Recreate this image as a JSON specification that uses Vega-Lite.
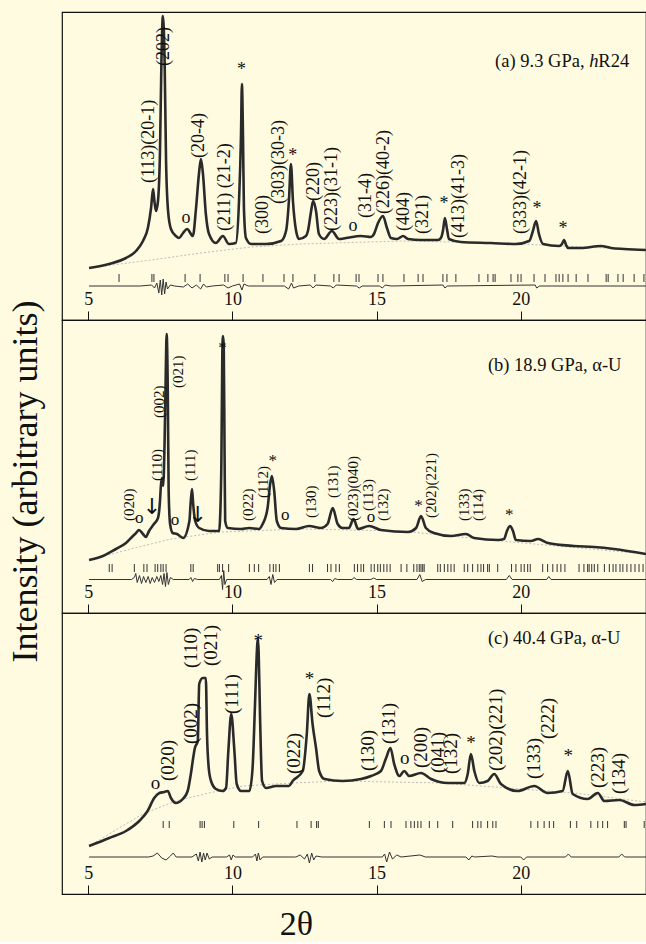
{
"$schema": "https://vega.github.io/schema/vega-lite/v6.json",
"background": "#FEFBE1",
"padding": {"left": 8, "top": 11, "right": 0, "bottom": 0},
"autosize": {"type": "pad"},
"bounds": "flush",
"spacing": 0,
"title": {"text": "Intensity (arbitrary units)", "orient": "left", "anchor": "middle", "font": "Liberation Serif", "fontSize": 36, "fontWeight": "normal", "color": "#111", "offset": 16, "dx": -5},
"config": {"view": {"stroke": "#111", "strokeWidth": 1.2}, "font": "Liberation Serif"},
"datasets": {
"aObs": [{"t":5.03,"I":52},{"t":5.72,"I":56},{"t":6.31,"I":62},{"t":6.66,"I":69},{"t":6.90,"I":79},{"t":7.07,"I":92},{"t":7.18,"I":112},{"t":7.25,"I":131},{"t":7.30,"I":118},{"t":7.35,"I":109},{"t":7.42,"I":119},{"t":7.49,"I":169},{"t":7.54,"I":259},{"t":7.59,"I":304},{"t":7.65,"I":259},{"t":7.70,"I":159},{"t":7.77,"I":109},{"t":7.87,"I":91},{"t":8.04,"I":84},{"t":8.15,"I":82},{"t":8.29,"I":87},{"t":8.43,"I":91},{"t":8.63,"I":84},{"t":8.74,"I":112},{"t":8.84,"I":146},{"t":8.91,"I":161},{"t":8.98,"I":146},{"t":9.08,"I":106},{"t":9.19,"I":86},{"t":9.43,"I":77},{"t":9.67,"I":84},{"t":9.88,"I":76},{"t":10.12,"I":77},{"t":10.23,"I":119},{"t":10.30,"I":186},{"t":10.33,"I":236},{"t":10.37,"I":179},{"t":10.40,"I":112},{"t":10.47,"I":82},{"t":10.65,"I":76},{"t":11.17,"I":76},{"t":11.69,"I":79},{"t":11.86,"I":89},{"t":11.96,"I":119},{"t":12.03,"I":156},{"t":12.10,"I":119},{"t":12.21,"I":89},{"t":12.31,"I":81},{"t":12.55,"I":84},{"t":12.62,"I":89},{"t":12.73,"I":109},{"t":12.80,"I":119},{"t":12.90,"I":109},{"t":13.00,"I":86},{"t":13.18,"I":81},{"t":13.45,"I":89},{"t":13.70,"I":81},{"t":13.94,"I":82},{"t":14.46,"I":84},{"t":14.81,"I":83},{"t":14.91,"I":86},{"t":15.05,"I":97},{"t":15.22,"I":104},{"t":15.36,"I":92},{"t":15.50,"I":82},{"t":15.71,"I":81},{"t":15.92,"I":84},{"t":16.09,"I":81},{"t":16.54,"I":80},{"t":17.13,"I":80},{"t":17.23,"I":82},{"t":17.30,"I":89},{"t":17.37,"I":102},{"t":17.44,"I":91},{"t":17.51,"I":81},{"t":17.92,"I":78},{"t":18.96,"I":77},{"t":19.83,"I":76},{"t":20.29,"I":79},{"t":20.42,"I":89},{"t":20.53,"I":99},{"t":20.63,"I":86},{"t":20.77,"I":76},{"t":21.33,"I":74},{"t":21.43,"I":76},{"t":21.50,"I":80},{"t":21.57,"I":75},{"t":21.64,"I":72},{"t":22.09,"I":72},{"t":22.78,"I":74},{"t":23.13,"I":72},{"t":23.58,"I":71},{"t":24.34,"I":70}],
"aBg": [{"t":5.03,"I":52},{"t":7.18,"I":60},{"t":8.91,"I":67},{"t":10.65,"I":73},{"t":12.38,"I":76},{"t":15.85,"I":79},{"t":19.31,"I":77},{"t":24.34,"I":70}],
"aTick": [{"t":6.07},{"t":7.21},{"t":7.28},{"t":8.36},{"t":8.88},{"t":9.74},{"t":9.85},{"t":10.37},{"t":11.06},{"t":11.79},{"t":12.10},{"t":12.86},{"t":13.52},{"t":13.70},{"t":14.29},{"t":14.39},{"t":15.05},{"t":15.22},{"t":15.95},{"t":16.44},{"t":16.61},{"t":17.30},{"t":17.44},{"t":17.75},{"t":18.55},{"t":18.86},{"t":19.04},{"t":19.11},{"t":19.66},{"t":19.90},{"t":20.01},{"t":20.46},{"t":20.84},{"t":21.22},{"t":21.33},{"t":21.46},{"t":21.64},{"t":21.92},{"t":22.33},{"t":22.96},{"t":23.03},{"t":23.37},{"t":23.55},{"t":23.93},{"t":24.27}],
"aDiff": [{"t":5.03,"d":0},{"t":6.8,"d":0},{"t":7.2,"d":1},{"t":7.3,"d":-2},{"t":7.38,"d":3},{"t":7.45,"d":-7},{"t":7.5,"d":6},{"t":7.55,"d":-9},{"t":7.6,"d":7},{"t":7.65,"d":-8},{"t":7.7,"d":4},{"t":7.75,"d":-3},{"t":7.85,"d":1},{"t":8.0,"d":0},{"t":8.3,"d":-1},{"t":8.45,"d":2},{"t":8.6,"d":-2},{"t":8.75,"d":1},{"t":8.9,"d":-3},{"t":9.0,"d":2},{"t":9.1,"d":-1},{"t":9.3,"d":0},{"t":9.7,"d":1},{"t":9.85,"d":-2},{"t":10.0,"d":0},{"t":10.25,"d":2},{"t":10.33,"d":-4},{"t":10.4,"d":2},{"t":10.55,"d":0},{"t":11.8,"d":0},{"t":11.95,"d":-3},{"t":12.05,"d":3},{"t":12.12,"d":-2},{"t":12.3,"d":0},{"t":12.7,"d":1},{"t":12.8,"d":-2},{"t":12.9,"d":1},{"t":13.4,"d":0},{"t":13.5,"d":-2},{"t":13.6,"d":1},{"t":14.3,"d":0},{"t":14.4,"d":-2},{"t":14.5,"d":0},{"t":15.1,"d":0},{"t":15.2,"d":-2},{"t":15.3,"d":1},{"t":15.5,"d":0},{"t":17.3,"d":1},{"t":17.37,"d":-2},{"t":17.45,"d":0},{"t":20.5,"d":1},{"t":20.55,"d":-2},{"t":20.65,"d":0},{"t":24.34,"d":0}],
"aLab": [{"t":7.11,"I":137,"txt":"(113)(20-1)"},{"t":7.63,"I":254,"txt":"(202)"},{"t":8.84,"I":162,"txt":"(20-4)"},{"t":9.74,"I":89,"txt":"(211) (21-2)"},{"t":11.05,"I":86,"txt":"(300)"},{"t":11.63,"I":116,"txt":"(303)(30-3)"},{"t":12.84,"I":119,"txt":"(220)"},{"t":13.45,"I":89,"txt":"(223)(31-1)"},{"t":14.63,"I":102,"txt":"(31-4)"},{"t":15.26,"I":106,"txt":"(226)(40-2)"},{"t":15.95,"I":89,"txt":"(404)"},{"t":16.61,"I":86,"txt":"(321)"},{"t":17.86,"I":82,"txt":"(413)(41-3)"},{"t":20.01,"I":86,"txt":"(333)(42-1)"}],
"aSym": [{"t":10.32,"I":250,"txt":"*"},{"t":12.09,"I":164,"txt":"*"},{"t":17.34,"I":116,"txt":"*"},{"t":20.56,"I":111,"txt":"*"},{"t":21.46,"I":91,"txt":"*"},{"t":8.39,"I":102,"txt":"o"},{"t":14.18,"I":94,"txt":"o"}],
"aHead": [{"t":19.11,"I":253,"txt":"(a) 9.3 GPa,"},{"t":22.69,"I":253,"txt":"R24"}],
"aHeadIt": [{"t":22.37,"I":253,"txt":"h"}],
"bObs": [{"t":5.03,"I":53},{"t":5.51,"I":57},{"t":5.96,"I":64},{"t":6.31,"I":70},{"t":6.55,"I":77},{"t":6.66,"I":80},{"t":6.76,"I":83},{"t":6.90,"I":79},{"t":7.00,"I":76},{"t":7.11,"I":82},{"t":7.28,"I":89},{"t":7.42,"I":95},{"t":7.49,"I":112},{"t":7.52,"I":127},{"t":7.56,"I":135},{"t":7.60,"I":127},{"t":7.65,"I":172},{"t":7.69,"I":239},{"t":7.72,"I":279},{"t":7.76,"I":222},{"t":7.79,"I":122},{"t":7.84,"I":89},{"t":7.93,"I":80},{"t":8.08,"I":79},{"t":8.29,"I":75},{"t":8.51,"I":92},{"t":8.55,"I":109},{"t":8.60,"I":124},{"t":8.64,"I":109},{"t":8.71,"I":92},{"t":8.85,"I":85},{"t":9.19,"I":82},{"t":9.54,"I":82},{"t":9.57,"I":92},{"t":9.62,"I":155},{"t":9.65,"I":255},{"t":9.67,"I":277},{"t":9.70,"I":269},{"t":9.73,"I":155},{"t":9.75,"I":92},{"t":9.84,"I":85},{"t":10.30,"I":84},{"t":10.58,"I":85},{"t":10.92,"I":84},{"t":11.05,"I":89},{"t":11.22,"I":105},{"t":11.31,"I":129},{"t":11.37,"I":137},{"t":11.45,"I":122},{"t":11.54,"I":92},{"t":11.69,"I":85},{"t":12.21,"I":84},{"t":12.66,"I":87},{"t":13.07,"I":85},{"t":13.30,"I":89},{"t":13.48,"I":105},{"t":13.65,"I":89},{"t":13.82,"I":85},{"t":14.04,"I":85},{"t":14.20,"I":94},{"t":14.36,"I":84},{"t":14.74,"I":87},{"t":15.15,"I":83},{"t":16.09,"I":81},{"t":16.37,"I":85},{"t":16.54,"I":97},{"t":16.71,"I":85},{"t":16.99,"I":80},{"t":17.58,"I":77},{"t":18.10,"I":79},{"t":18.38,"I":75},{"t":19.21,"I":73},{"t":19.42,"I":74},{"t":19.52,"I":82},{"t":19.63,"I":87},{"t":19.73,"I":82},{"t":19.83,"I":73},{"t":20.35,"I":72},{"t":20.60,"I":74},{"t":20.94,"I":70},{"t":21.85,"I":67},{"t":22.54,"I":66},{"t":23.23,"I":64},{"t":24.34,"I":59}],
"bBg": [{"t":5.03,"I":53},{"t":6.48,"I":64},{"t":7.87,"I":74},{"t":9.60,"I":81},{"t":12.38,"I":84},{"t":15.85,"I":82},{"t":19.31,"I":72},{"t":24.34,"I":59}],
"bTick": [{"t":5.73},{"t":5.83},{"t":6.60},{"t":6.93},{"t":7.04},{"t":7.32},{"t":7.41},{"t":7.52},{"t":7.60},{"t":7.70},{"t":8.56},{"t":8.64},{"t":9.49},{"t":9.55},{"t":9.66},{"t":9.87},{"t":10.59},{"t":10.76},{"t":10.91},{"t":11.30},{"t":11.42},{"t":11.51},{"t":11.63},{"t":12.67},{"t":12.78},{"t":13.30},{"t":13.42},{"t":13.59},{"t":13.71},{"t":14.23},{"t":14.34},{"t":14.46},{"t":14.55},{"t":14.81},{"t":14.92},{"t":15.04},{"t":15.13},{"t":15.25},{"t":15.36},{"t":15.47},{"t":15.85},{"t":16.05},{"t":16.29},{"t":16.40},{"t":16.48},{"t":16.54},{"t":16.60},{"t":16.65},{"t":17.12},{"t":17.21},{"t":17.35},{"t":17.47},{"t":17.58},{"t":17.69},{"t":18.04},{"t":18.16},{"t":18.33},{"t":18.51},{"t":18.62},{"t":18.71},{"t":18.85},{"t":18.91},{"t":19.20},{"t":19.68},{"t":19.83},{"t":20.01},{"t":20.12},{"t":20.24},{"t":20.33},{"t":20.76},{"t":20.93},{"t":21.11},{"t":21.26},{"t":21.39},{"t":21.53},{"t":22.02},{"t":22.19},{"t":22.32},{"t":22.37},{"t":22.46},{"t":22.55},{"t":22.67},{"t":22.90},{"t":23.07},{"t":23.20},{"t":23.30},{"t":23.44},{"t":23.54},{"t":23.68},{"t":23.82},{"t":23.96},{"t":24.10},{"t":24.24}],
"bDiff": [{"t":5.03,"d":0},{"t":6.5,"d":0},{"t":6.6,"d":2},{"t":6.65,"d":6},{"t":6.7,"d":-3},{"t":6.78,"d":4},{"t":6.85,"d":-4},{"t":6.92,"d":3},{"t":7.0,"d":-3},{"t":7.08,"d":3},{"t":7.15,"d":-4},{"t":7.22,"d":2},{"t":7.3,"d":-3},{"t":7.38,"d":3},{"t":7.45,"d":-2},{"t":7.52,"d":4},{"t":7.58,"d":-5},{"t":7.63,"d":6},{"t":7.68,"d":-7},{"t":7.73,"d":7},{"t":7.78,"d":-5},{"t":7.85,"d":2},{"t":7.95,"d":0},{"t":8.5,"d":0},{"t":8.56,"d":2},{"t":8.62,"d":-2},{"t":8.68,"d":1},{"t":8.8,"d":0},{"t":9.55,"d":0},{"t":9.62,"d":4},{"t":9.66,"d":-10},{"t":9.7,"d":9},{"t":9.74,"d":-5},{"t":9.8,"d":0},{"t":11.2,"d":0},{"t":11.28,"d":3},{"t":11.34,"d":-5},{"t":11.4,"d":5},{"t":11.46,"d":-3},{"t":11.55,"d":0},{"t":13.4,"d":0},{"t":13.48,"d":-2},{"t":13.55,"d":1},{"t":13.65,"d":0},{"t":14.15,"d":0},{"t":14.22,"d":2},{"t":14.3,"d":0},{"t":14.8,"d":0},{"t":14.9,"d":1.5},{"t":15.0,"d":0},{"t":16.4,"d":0},{"t":16.5,"d":5},{"t":16.58,"d":-2},{"t":16.7,"d":0},{"t":19.5,"d":0},{"t":19.6,"d":4},{"t":19.7,"d":0},{"t":20.9,"d":0},{"t":20.97,"d":3},{"t":21.05,"d":0},{"t":24.34,"d":0}],
"bLab": [{"t":6.43,"I":92,"txt":"(020)"},{"t":7.39,"I":132,"txt":"(110)"},{"t":7.47,"I":195,"txt":"(002)"},{"t":8.12,"I":225,"txt":"(021)"},{"t":8.53,"I":132,"txt":"(111)"},{"t":10.53,"I":92,"txt":"(022)"},{"t":11.07,"I":115,"txt":"(112)"},{"t":12.73,"I":95,"txt":"(130)"},{"t":13.48,"I":115,"txt":"(131)"},{"t":14.18,"I":92,"txt":"(023)(040)"},{"t":14.69,"I":102,"txt":"(113)"},{"t":15.21,"I":92,"txt":"(132)"},{"t":16.89,"I":95,"txt":"(202)(221)"},{"t":18.04,"I":92,"txt":"(133)"},{"t":18.51,"I":92,"txt":"(114)"}],
"bSym": [{"t":6.77,"I":95,"txt":"o"},{"t":8.01,"I":93,"txt":"o"},{"t":11.83,"I":98,"txt":"o"},{"t":14.81,"I":96,"txt":"o"},{"t":9.66,"I":265,"txt":"*"},{"t":11.40,"I":152,"txt":"*"},{"t":16.45,"I":107,"txt":"*"},{"t":19.60,"I":98,"txt":"*"}],
"bArrow": [{"t":7.21,"I":106},{"t":8.80,"I":98}],
"bHead": [{"t":18.86,"I":242,"txt":"(b) 18.9 GPa, α-U"}],
"cObs": [{"t":5.03,"I":48},{"t":5.73,"I":56},{"t":6.31,"I":63},{"t":6.77,"I":73},{"t":7.06,"I":83},{"t":7.29,"I":96},{"t":7.47,"I":101},{"t":7.64,"I":102},{"t":7.76,"I":103},{"t":7.87,"I":96},{"t":8.04,"I":91},{"t":8.28,"I":95},{"t":8.45,"I":103},{"t":8.56,"I":120},{"t":8.64,"I":136},{"t":8.70,"I":146},{"t":8.80,"I":153},{"t":8.85,"I":210},{"t":8.97,"I":216},{"t":9.08,"I":216},{"t":9.12,"I":160},{"t":9.18,"I":126},{"t":9.26,"I":113},{"t":9.43,"I":105},{"t":9.66,"I":103},{"t":9.78,"I":106},{"t":9.86,"I":143},{"t":9.96,"I":180},{"t":10.07,"I":143},{"t":10.15,"I":110},{"t":10.30,"I":103},{"t":10.59,"I":103},{"t":10.70,"I":126},{"t":10.78,"I":186},{"t":10.85,"I":243},{"t":10.88,"I":256},{"t":10.91,"I":243},{"t":10.96,"I":176},{"t":11.03,"I":113},{"t":11.17,"I":106},{"t":11.51,"I":108},{"t":11.96,"I":108},{"t":12.09,"I":113},{"t":12.44,"I":123},{"t":12.58,"I":160},{"t":12.67,"I":200},{"t":12.78,"I":170},{"t":12.90,"I":146},{"t":13.01,"I":123},{"t":13.19,"I":115},{"t":13.82,"I":113},{"t":14.46,"I":115},{"t":14.81,"I":118},{"t":15.15,"I":123},{"t":15.33,"I":136},{"t":15.48,"I":146},{"t":15.61,"I":130},{"t":15.79,"I":118},{"t":15.96,"I":123},{"t":16.13,"I":118},{"t":16.54,"I":121},{"t":16.89,"I":115},{"t":17.47,"I":111},{"t":18.04,"I":111},{"t":18.16,"I":120},{"t":18.27,"I":140},{"t":18.39,"I":123},{"t":18.56,"I":111},{"t":18.85,"I":113},{"t":19.08,"I":120},{"t":19.31,"I":110},{"t":19.89,"I":103},{"t":20.47,"I":108},{"t":20.93,"I":101},{"t":21.45,"I":103},{"t":21.63,"I":123},{"t":21.80,"I":100},{"t":22.32,"I":95},{"t":22.67,"I":101},{"t":22.90,"I":93},{"t":23.42,"I":94},{"t":23.94,"I":89},{"t":24.34,"I":90}],
"cBg": [{"t":5.03,"I":48},{"t":6.89,"I":80},{"t":8.04,"I":93},{"t":9.19,"I":101},{"t":10.36,"I":108},{"t":12.09,"I":111},{"t":13.77,"I":113},{"t":17.23,"I":111},{"t":21.85,"I":101},{"t":24.34,"I":92}],
"cTick": [{"t":7.60},{"t":7.81},{"t":8.88},{"t":8.95},{"t":9.03},{"t":10.05},{"t":10.91},{"t":12.24},{"t":12.73},{"t":12.92},{"t":12.98},{"t":14.75},{"t":15.27},{"t":15.50},{"t":16.02},{"t":16.19},{"t":16.31},{"t":16.43},{"t":16.54},{"t":16.83},{"t":17.12},{"t":17.64},{"t":18.33},{"t":18.51},{"t":18.62},{"t":18.85},{"t":19.03},{"t":19.14},{"t":20.35},{"t":20.59},{"t":20.81},{"t":20.99},{"t":21.14},{"t":21.72},{"t":21.94},{"t":22.43},{"t":22.67},{"t":22.84},{"t":23.01},{"t":23.59},{"t":23.65},{"t":24.28}],
"cDiff": [{"t":5.03,"d":0},{"t":7.1,"d":0},{"t":7.25,"d":1},{"t":7.4,"d":4},{"t":7.55,"d":-1},{"t":7.7,"d":-3},{"t":7.85,"d":1},{"t":7.95,"d":4},{"t":8.05,"d":0},{"t":8.6,"d":0},{"t":8.75,"d":3},{"t":8.82,"d":-4},{"t":8.88,"d":5},{"t":8.94,"d":-5},{"t":9.0,"d":4},{"t":9.06,"d":-3},{"t":9.12,"d":4},{"t":9.2,"d":-2},{"t":9.3,"d":0},{"t":9.8,"d":0},{"t":9.9,"d":2},{"t":9.96,"d":-3},{"t":10.02,"d":2},{"t":10.1,"d":0},{"t":10.7,"d":0},{"t":10.8,"d":3},{"t":10.85,"d":-4},{"t":10.9,"d":4},{"t":10.96,"d":-3},{"t":11.05,"d":0},{"t":12.2,"d":0},{"t":12.35,"d":2},{"t":12.5,"d":-2},{"t":12.6,"d":3},{"t":12.67,"d":-6},{"t":12.75,"d":4},{"t":12.82,"d":-3},{"t":12.9,"d":1},{"t":13.1,"d":0},{"t":15.2,"d":0},{"t":15.28,"d":3},{"t":15.35,"d":-5},{"t":15.45,"d":5},{"t":15.55,"d":-2},{"t":15.7,"d":2},{"t":15.85,"d":0},{"t":16.5,"d":2},{"t":16.7,"d":0},{"t":18.1,"d":0},{"t":18.2,"d":-3},{"t":18.3,"d":1},{"t":18.4,"d":0},{"t":19.0,"d":1},{"t":19.2,"d":0},{"t":20.0,"d":0},{"t":20.1,"d":-3},{"t":20.2,"d":0},{"t":21.55,"d":0},{"t":21.65,"d":3},{"t":21.75,"d":0},{"t":23.4,"d":0},{"t":23.5,"d":3},{"t":23.6,"d":0},{"t":24.34,"d":0}],
"cLab": [{"t":7.76,"I":113,"txt":"(020)"},{"t":8.56,"I":150,"txt":"(002)"},{"t":8.56,"I":226,"txt":"(110)"},{"t":9.26,"I":228,"txt":"(021)"},{"t":9.99,"I":180,"txt":"(111)"},{"t":12.15,"I":120,"txt":"(022)"},{"t":13.19,"I":176,"txt":"(112)"},{"t":14.69,"I":123,"txt":"(130)"},{"t":15.44,"I":150,"txt":"(131)"},{"t":16.54,"I":126,"txt":"(200)"},{"t":17.12,"I":121,"txt":"(041)"},{"t":17.58,"I":120,"txt":"(132)"},{"t":19.14,"I":123,"txt":"(202)(221)"},{"t":20.47,"I":115,"txt":"(133)"},{"t":20.93,"I":155,"txt":"(222)"},{"t":22.69,"I":106,"txt":"(223)"},{"t":23.42,"I":100,"txt":"(134)"}],
"cSym": [{"t":7.33,"I":111,"txt":"o"},{"t":15.98,"I":136,"txt":"o"},{"t":10.90,"I":253,"txt":"*"},{"t":12.67,"I":215,"txt":"*"},{"t":18.27,"I":151,"txt":"*"},{"t":21.65,"I":138,"txt":"*"}],
"cHead": [{"t":18.86,"I":250,"txt":"(c) 40.4 GPa, α-U"}]
},
"vconcat": [
{
"width": 584, "height": 308,
"encoding": {"x": {"field": "t", "type": "quantitative", "scale": {"domain": [4.092, 24.342], "nice": false, "zero": false}, "axis": {"values": [5,10,15,20], "title": null, "grid": false, "tickSize": -9, "tickColor": "#111", "domainColor": "#111", "labelPadding": -7, "labelBaseline": "alphabetic", "labelFont": "Liberation Serif", "labelFontSize": 18, "labelColor": "#111", "labelFlush": false, "labelOverlap": false}}},
"layer": [
{"data": {"name": "aBg"}, "mark": {"type": "line", "color": "#bdbdbd", "strokeWidth": 1, "strokeDash": [2, 2], "clip": true}, "encoding": {"y": {"field": "I", "type": "quantitative", "scale": {"domain": [0, 308], "nice": false, "zero": false}, "axis": null}}},
{"data": {"name": "aObs"}, "mark": {"type": "line", "color": "#2a2a2a", "strokeWidth": 2.6, "interpolate": "monotone", "clip": true}, "encoding": {"y": {"field": "I", "type": "quantitative"}}},
{"data": {"name": "aTick"}, "mark": {"type": "rule", "color": "#333", "strokeWidth": 1}, "encoding": {"y": {"datum": 38, "type": "quantitative"}, "y2": {"datum": 46}}},
{"data": {"name": "aDiff"}, "mark": {"type": "line", "color": "#333", "strokeWidth": 1, "yOffset": -34}, "encoding": {"y": {"field": "d", "type": "quantitative"}}},
{"data": {"name": "aLab"}, "mark": {"type": "text", "angle": 270, "align": "left", "baseline": "middle", "fontSize": 18, "font": "Liberation Serif", "color": "#111"}, "encoding": {"y": {"field": "I", "type": "quantitative"}, "text": {"field": "txt"}}},
{"data": {"name": "aSym"}, "mark": {"type": "text", "align": "center", "baseline": "middle", "fontSize": 18, "font": "Liberation Serif", "color": "#111"}, "encoding": {"y": {"field": "I", "type": "quantitative"}, "text": {"field": "txt"}}},
{"data": {"name": "aHead"}, "mark": {"type": "text", "align": "left", "baseline": "alphabetic", "fontSize": 18.5, "font": "Liberation Serif", "color": "#111"}, "encoding": {"y": {"field": "I", "type": "quantitative"}, "text": {"field": "txt"}}},
{"data": {"name": "aHeadIt"}, "mark": {"type": "text", "align": "left", "baseline": "alphabetic", "fontSize": 18.5, "fontStyle": "italic", "font": "Liberation Serif", "color": "#111"}, "encoding": {"y": {"field": "I", "type": "quantitative"}, "text": {"field": "txt"}}}
]
},
{
"width": 584, "height": 293,
"encoding": {"x": {"field": "t", "type": "quantitative", "scale": {"domain": [4.092, 24.342], "nice": false, "zero": false}, "axis": {"values": [5,10,15,20], "title": null, "grid": false, "tickSize": -9, "tickColor": "#111", "domainColor": "#111", "labelPadding": -7, "labelBaseline": "alphabetic", "labelFont": "Liberation Serif", "labelFontSize": 18, "labelColor": "#111", "labelFlush": false, "labelOverlap": false}}},
"layer": [
{"data": {"name": "bBg"}, "mark": {"type": "line", "color": "#bdbdbd", "strokeWidth": 1, "strokeDash": [2, 2], "clip": true}, "encoding": {"y": {"field": "I", "type": "quantitative", "scale": {"domain": [0, 293], "nice": false, "zero": false}, "axis": null}}},
{"data": {"name": "bObs"}, "mark": {"type": "line", "color": "#2a2a2a", "strokeWidth": 2.6, "interpolate": "monotone", "clip": true}, "encoding": {"y": {"field": "I", "type": "quantitative"}}},
{"data": {"name": "bTick"}, "mark": {"type": "rule", "color": "#333", "strokeWidth": 1}, "encoding": {"y": {"datum": 41, "type": "quantitative"}, "y2": {"datum": 49}}},
{"data": {"name": "bDiff"}, "mark": {"type": "line", "color": "#333", "strokeWidth": 1, "yOffset": -33.5}, "encoding": {"y": {"field": "d", "type": "quantitative"}}},
{"data": {"name": "bLab"}, "mark": {"type": "text", "angle": 270, "align": "left", "baseline": "middle", "fontSize": 15, "font": "Liberation Serif", "color": "#111"}, "encoding": {"y": {"field": "I", "type": "quantitative"}, "text": {"field": "txt"}}},
{"data": {"name": "bSym"}, "mark": {"type": "text", "align": "center", "baseline": "middle", "fontSize": 17, "font": "Liberation Serif", "color": "#111"}, "encoding": {"y": {"field": "I", "type": "quantitative"}, "text": {"field": "txt"}}},
{"data": {"name": "bArrow"}, "mark": {"type": "text", "text": "↓", "align": "center", "baseline": "middle", "fontSize": 22, "font": "DejaVu Sans", "color": "#111"}, "encoding": {"y": {"field": "I", "type": "quantitative"}}},
{"data": {"name": "bHead"}, "mark": {"type": "text", "align": "left", "baseline": "alphabetic", "fontSize": 18.5, "font": "Liberation Serif", "color": "#111"}, "encoding": {"y": {"field": "I", "type": "quantitative"}, "text": {"field": "txt"}}}
]
},
{
"width": 584, "height": 281,
"encoding": {"x": {"field": "t", "type": "quantitative", "scale": {"domain": [4.092, 24.342], "nice": false, "zero": false}, "axis": {"values": [5,10,15,20], "title": "2θ", "titleFont": "Liberation Serif", "titleFontSize": 34, "titleFontWeight": "normal", "titleColor": "#111", "titleX": 234, "titleY": 40, "titleBaseline": "alphabetic", "titleAlign": "center", "grid": false, "tickSize": -9, "tickColor": "#111", "domainColor": "#111", "labelPadding": -7, "labelBaseline": "alphabetic", "labelFont": "Liberation Serif", "labelFontSize": 18, "labelColor": "#111", "labelFlush": false, "labelOverlap": false}}},
"layer": [
{"data": {"name": "cBg"}, "mark": {"type": "line", "color": "#bdbdbd", "strokeWidth": 1, "strokeDash": [2, 2], "clip": true}, "encoding": {"y": {"field": "I", "type": "quantitative", "scale": {"domain": [0, 281], "nice": false, "zero": false}, "axis": null}}},
{"data": {"name": "cObs"}, "mark": {"type": "line", "color": "#2a2a2a", "strokeWidth": 2.6, "interpolate": "monotone", "clip": true}, "encoding": {"y": {"field": "I", "type": "quantitative"}}},
{"data": {"name": "cTick"}, "mark": {"type": "rule", "color": "#333", "strokeWidth": 1}, "encoding": {"y": {"datum": 66, "type": "quantitative"}, "y2": {"datum": 73}}},
{"data": {"name": "cDiff"}, "mark": {"type": "line", "color": "#333", "strokeWidth": 1, "yOffset": -37}, "encoding": {"y": {"field": "d", "type": "quantitative"}}},
{"data": {"name": "cLab"}, "mark": {"type": "text", "angle": 270, "align": "left", "baseline": "middle", "fontSize": 19, "font": "Liberation Serif", "color": "#111"}, "encoding": {"y": {"field": "I", "type": "quantitative"}, "text": {"field": "txt"}}},
{"data": {"name": "cSym"}, "mark": {"type": "text", "align": "center", "baseline": "middle", "fontSize": 19, "font": "Liberation Serif", "color": "#111"}, "encoding": {"y": {"field": "I", "type": "quantitative"}, "text": {"field": "txt"}}},
{"data": {"name": "cHead"}, "mark": {"type": "text", "align": "left", "baseline": "alphabetic", "fontSize": 18.5, "font": "Liberation Serif", "color": "#111"}, "encoding": {"y": {"field": "I", "type": "quantitative"}, "text": {"field": "txt"}}}
]
}
]
}
